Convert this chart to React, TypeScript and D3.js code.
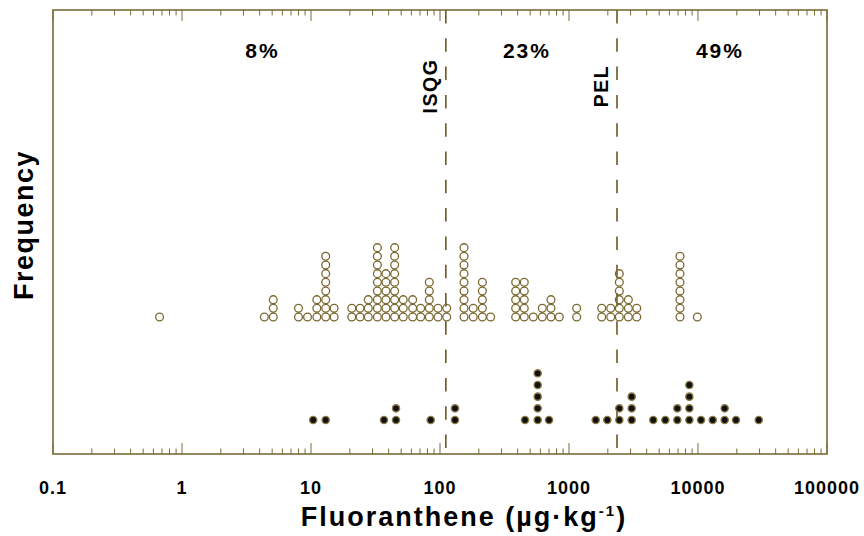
import React from "react";
import * as d3 from "d3";

// Fluoranthene concentrations (µg/kg) and the number of samples at each value
const openValues = [0.67, 4.35, 5.1, 8.0, 9.4, 11.1, 13.0, 15.1, 20.7, 24.0, 27.8, 32.7, 38.1, 44.5, 51.9, 61.4, 70.8, 82.6, 96.5, 112.7, 153.5, 181, 213, 247, 386, 450, 529, 621, 725, 841, 1147, 1792, 2105, 2455, 2884, 3350, 7250, 9880];
const openCounts = [1, 1, 3, 2, 1, 3, 8, 2, 2, 2, 3, 9, 6, 9, 3, 3, 2, 5, 2, 2, 9, 2, 5, 1, 5, 5, 1, 2, 3, 1, 2, 2, 2, 6, 3, 2, 8, 1];

const filledValues = [10.4, 13.0, 36.8, 45.6, 84.7, 130.7, 456, 572, 700, 1611, 1982, 2455, 3062, 4500, 5580, 6915, 8570, 10550, 13000, 16100, 19700, 29570];
const filledCounts = [1, 1, 1, 2, 1, 2, 1, 5, 1, 1, 1, 2, 3, 1, 1, 2, 4, 1, 1, 2, 1, 1];

// Sediment quality guidelines
const guideNames = ["ISQG", "PEL"];
const guideValues = [111, 2355];

// Share of samples in each range, placed at a concentration within that range
const rangeLabels = ["8%", "23%", "49%"];
const rangeCenters = [4.2, 472, 14800];

const tickLabels = ["0.1", "1", "10", "100", "1000", "10000", "100000"];

const W = 864;
const H = 536;
const left = 53;
const right = 827;
const top = 10;
const bottom = 454;

const frameColor = "#7b6b38";
const ringColor = "#7a6830";
const dashColor = "#6b5824";
const font = "'Liberation Sans', Arial, Helvetica, sans-serif";

export default function App() {
  const x = d3.scaleLog().domain([0.1, 100000]).range([left, right]);
  // stack position (0 = lowest) to vertical pixel, one scale per series
  const yOpen = d3.scaleLinear().domain([0, 1]).range([317, 308.33]);
  const yFilled = d3.scaleLinear().domain([0, 1]).range([420, 408.33]);

  const ticks = x.ticks();
  const isMajor = (t: number) => Math.abs(Math.log10(t) - Math.round(Math.log10(t))) < 1e-9;

  const openDots: { v: number; k: number }[] = [];
  openValues.forEach((v, i) => {
    for (let k = 0; k < openCounts[i]; k++) openDots.push({ v, k });
  });
  const filledDots: { v: number; k: number }[] = [];
  filledValues.forEach((v, i) => {
    for (let k = 0; k < filledCounts[i]; k++) filledDots.push({ v, k });
  });

  return (
    <svg
      width={W}
      height={H}
      style={{ position: "absolute", left: 0, top: 0, display: "block", background: "#fff" }}
      fontFamily={font}
    >
      {/* tick marks, inward on top and bottom */}
      {ticks.map((t, i) => {
        const len = isMajor(t) ? 11 : 5.5;
        const xp = x(t);
        return (
          <g key={i} stroke={frameColor} strokeWidth={1}>
            <line x1={xp} x2={xp} y1={bottom} y2={bottom - len} />
            <line x1={xp} x2={xp} y1={top} y2={top + len} />
          </g>
        );
      })}

      {/* guideline markers */}
      {guideValues.map((g, i) => (
        <line
          key={i}
          x1={x(g)}
          x2={x(g)}
          y1={top}
          y2={bottom}
          stroke={dashColor}
          strokeWidth={1.6}
          strokeDasharray="13.5 14.8"
        />
      ))}

      {/* open circles */}
      {openDots.map((d, i) => (
        <circle
          key={"o" + i}
          cx={x(d.v)}
          cy={yOpen(d.k)}
          r={3.9}
          fill="none"
          stroke={ringColor}
          strokeWidth={1.3}
        />
      ))}

      {/* filled dots */}
      {filledDots.map((d, i) => (
        <circle
          key={"f" + i}
          cx={x(d.v)}
          cy={yFilled(d.k)}
          r={3.6}
          fill="#111"
          stroke="#8a7a48"
          strokeWidth={1.4}
        />
      ))}

      {/* frame */}
      <rect
        x={left}
        y={top}
        width={right - left}
        height={bottom - top}
        fill="none"
        stroke={frameColor}
        strokeWidth={1.6}
      />

      {/* range percentages */}
      {rangeLabels.map((l, i) => (
        <text
          key={l}
          x={x(rangeCenters[i])}
          y={58}
          textAnchor="middle"
          fontSize={21}
          fontWeight="bold"
          letterSpacing={2}
        >
          {l}
        </text>
      ))}

      {/* guideline names */}
      {guideNames.map((n, i) => {
        const gx = x(guideValues[i]) - 9;
        return (
          <text
            key={n}
            transform={`translate(${gx},86) rotate(-90)`}
            textAnchor="middle"
            fontSize={19.5}
            fontWeight="bold"
            letterSpacing={1.5}
          >
            {n}
          </text>
        );
      })}

      {/* x tick labels */}
      {tickLabels.map((l, i) => (
        <text
          key={l}
          x={x(Math.pow(10, i - 1))}
          y={494}
          textAnchor="middle"
          fontSize={18}
          fontWeight="bold"
          letterSpacing={1}
        >
          {l}
        </text>
      ))}

      {/* axis titles */}
      <text
        x={(left + right) / 2 + 24}
        y={526}
        textAnchor="middle"
        fontSize={27}
        fontWeight="bold"
        letterSpacing={2}
      >
        Fluoranthene (µg·kg
        <tspan dy={-10} fontSize={15}>-1</tspan>
        <tspan dy={10}>)</tspan>
      </text>
      <text
        transform={`translate(33,225) rotate(-90)`}
        textAnchor="middle"
        fontSize={27}
        fontWeight="bold"
        letterSpacing={1.5}
      >
        Frequency
      </text>
    </svg>
  );
}
